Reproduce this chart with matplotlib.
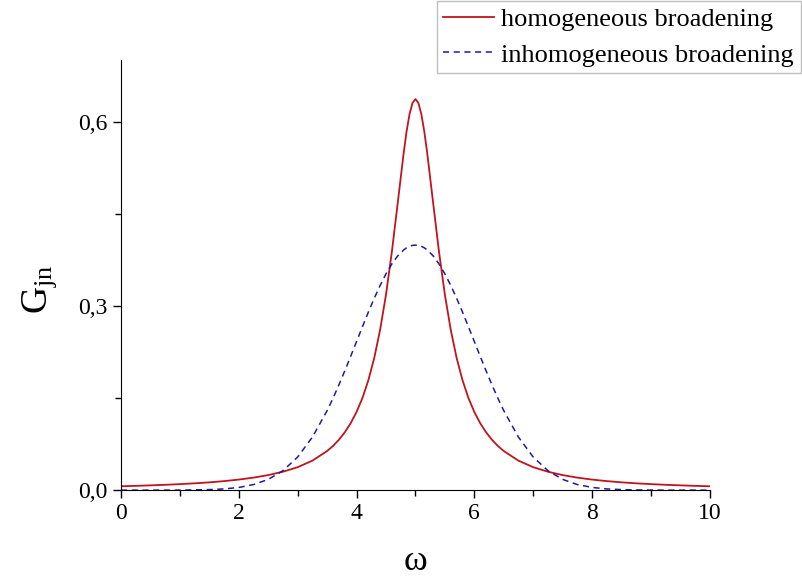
import matplotlib
matplotlib.use("Agg")
import matplotlib.pyplot as plt

# data
omega = [0, 0.25, 0.5, 0.75, 1, 1.25, 1.5, 1.75, 2, 2.25, 2.5, 2.75, 3, 3.25,
         3.5, 3.6, 3.7, 3.8, 3.9, 4.0, 4.1, 4.2, 4.3, 4.4, 4.5, 4.6, 4.7, 4.8,
         4.85, 4.9, 4.95, 5.0, 5.05, 5.1, 5.15, 5.2, 5.3, 5.4, 5.5, 5.6, 5.7,
         5.8, 5.9, 6.0, 6.1, 6.2, 6.3, 6.4, 6.5, 6.75, 7, 7.25, 7.5, 7.75, 8,
         8.25, 8.5, 8.75, 9, 9.25, 9.5, 9.75, 10]

g_homo_half = [0.0063, 0.0070, 0.0078, 0.0087, 0.0098, 0.0111, 0.0127, 0.0147,
               0.0172, 0.0204, 0.0245, 0.0300, 0.0374, 0.0480, 0.0637, 0.0720,
               0.0820, 0.0942, 0.1090, 0.1273, 0.1501, 0.1788, 0.2151, 0.2609,
               0.3183, 0.3882, 0.4681, 0.5488, 0.5841, 0.6121, 0.6303, 0.6366]
g_inhomo_half = [0.0000, 0.0000, 0.0000, 0.0000, 0.0001, 0.0004, 0.0009, 0.0020,
                 0.0044, 0.0091, 0.0175, 0.0317, 0.0540, 0.0863, 0.1295, 0.1497,
                 0.1714, 0.1942, 0.2179, 0.2420, 0.2661, 0.2897, 0.3123, 0.3332,
                 0.3521, 0.3683, 0.3814, 0.3910, 0.3945, 0.3970, 0.3984, 0.3989]
g_homo = g_homo_half + g_homo_half[-2::-1]
g_inhomo = g_inhomo_half + g_inhomo_half[-2::-1]

x_ticks = [0, 2, 4, 6, 8, 10]
y_ticks = [0.0, 0.3, 0.6]
y_ticklabels = ["0,0", "0,3", "0,6"]
labels = ["homogeneous broadening", "inhomogeneous broadening"]

plt.rcParams["font.family"] = ["Liberation Serif", "DejaVu Serif"]
plt.rcParams["mathtext.fontset"] = "custom"
plt.rcParams["mathtext.rm"] = "Liberation Serif"
plt.rcParams["mathtext.it"] = "Liberation Serif"

fig = plt.figure(figsize=(8.02, 5.78), dpi=100)
ax = fig.add_axes([0.151, 0.152, 0.734, 0.744])

ax.plot(omega, g_homo, color="#c0141e", lw=1.3, label=labels[0])
ax.plot(omega, g_inhomo, color="#1c1c9c", lw=1.1, ls=(0, (4, 3)), label=labels[1])

ax.set_xlim(0, 10)
ax.set_ylim(0, 0.7)
ax.spines["top"].set_visible(False)
ax.spines["right"].set_visible(False)
ax.set_xticks(x_ticks)
ax.set_xticks([1, 3, 5, 7, 9], minor=True)
ax.set_yticks(y_ticks)
ax.set_yticklabels(y_ticklabels)
ax.set_yticks([0.15, 0.45], minor=True)
ax.tick_params(which="major", direction="out", length=6, width=1, labelsize=17)
ax.tick_params(which="minor", direction="out", length=4, width=1)

ax.set_xlabel("ω", fontsize=26, labelpad=15)
ax.set_ylabel(r"G$_{\mathrm{jn}}$", fontsize=27)
ax.yaxis.set_label_coords(-0.105, 0.467)

leg = fig.legend(loc="upper right", bbox_to_anchor=(1.0, 1.0), fontsize=19,
                 frameon=True, fancybox=False, handlelength=1.9,
                 borderpad=0.25, labelspacing=0.45, handletextpad=0.3,
                 borderaxespad=0.05)
leg.get_frame().set_edgecolor("#b0b0b0")
leg.get_frame().set_linewidth(1)

fig.savefig("out.png", dpi=100)
